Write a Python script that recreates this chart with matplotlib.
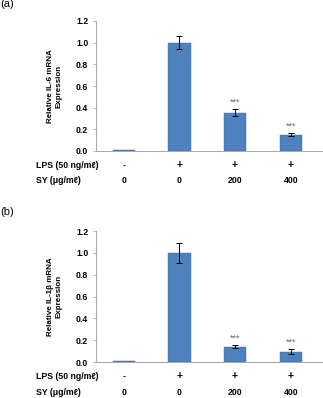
import matplotlib
matplotlib.use("Agg")
import matplotlib.pyplot as plt
import matplotlib.transforms as mtransforms

plt.rcParams['font.family'] = ['Liberation Sans', 'DejaVu Sans']

lps_labels = ['-', '+', '+', '+']
sy_labels = ['0', '0', '200', '400']

il6_values = [0.005, 1.0, 0.355, 0.15]
il6_errors = [0.0, 0.06, 0.035, 0.013]
il6_stars = ['', '', '***', '***']

il1b_values = [0.005, 1.0, 0.14, 0.095]
il1b_errors = [0.0, 0.09, 0.013, 0.022]
il1b_stars = ['', '', '***', '***']

yticks = [0.0, 0.2, 0.4, 0.6, 0.8, 1.0, 1.2]
color = '#4F81BD'

fig = plt.figure(figsize=(3.23, 3.98), dpi=100)

def panel(rect, values, errors, stars, ylabel, tag, tag_y):
    ax = fig.add_axes(rect)
    x = list(range(len(values)))
    ax.bar(x, values, width=0.4, color=color, edgecolor='#3A6EA5', linewidth=0.3)
    ax.errorbar(x[1:], values[1:], yerr=errors[1:], fmt='none', ecolor='black',
                elinewidth=0.7, capsize=2, capthick=0.7)
    for xi, v, e, s in zip(x, values, errors, stars):
        if s:
            ax.text(xi, v + e + 0.02, s, ha='center', va='bottom', fontsize=6.5,
                    color='#666666')
    ax.set_xlim(-0.5, 3.58)
    ax.set_ylim(0, 1.2)
    ax.set_yticks(yticks)
    ax.set_yticklabels([f'{t:.1f}' for t in yticks], fontsize=6.3, fontweight='bold')
    ax.set_xticks([])
    for sp in ['top', 'right']:
        ax.spines[sp].set_visible(False)
    for sp in ['left', 'bottom']:
        ax.spines[sp].set_color('#999999')
        ax.spines[sp].set_linewidth(0.6)
    ax.tick_params(axis='y', length=2.5, width=0.5, color='#999999', pad=3)
    ax.set_ylabel(ylabel, fontsize=5.8, fontweight='bold', labelpad=10, linespacing=1.25)
    trans = mtransforms.blended_transform_factory(ax.transData, ax.transAxes)
    for xi, l, s in zip(x, lps_labels, sy_labels):
        ax.text(xi, -0.11, l, transform=trans, ha='center', va='center',
                fontsize=7.5 if l == '+' else 6.5, fontweight='bold')
        ax.text(xi, -0.23, s, transform=trans, ha='center', va='center',
                fontsize=6.3, fontweight='bold')
    ftrans = mtransforms.blended_transform_factory(fig.transFigure, ax.transAxes)
    ax.text(36 / 323, -0.11, 'LPS (50 ng/mℓ)', transform=ftrans, ha='left', va='center',
            fontsize=6.3, fontweight='bold')
    ax.text(36 / 323, -0.23, 'SY (μg/mℓ)', transform=ftrans, ha='left', va='center',
            fontsize=6.3, fontweight='bold')
    fig.text(0.0, tag_y, tag, ha='left', va='center', fontsize=8)
    return ax

panel([96 / 323, 1 - 151 / 398, 1 - 96 / 323, 130 / 398], il6_values, il6_errors,
      il6_stars, 'Relative IL-6 mRNA\nExpression', '(a)', 1 - 4 / 398)
panel([96 / 323, 1 - 362 / 398, 1 - 96 / 323, 131 / 398], il1b_values, il1b_errors,
      il1b_stars, 'Relative IL-1β mRNA\nExpression', '(b)', 1 - 212 / 398)

fig.savefig('out.png', dpi=100)
